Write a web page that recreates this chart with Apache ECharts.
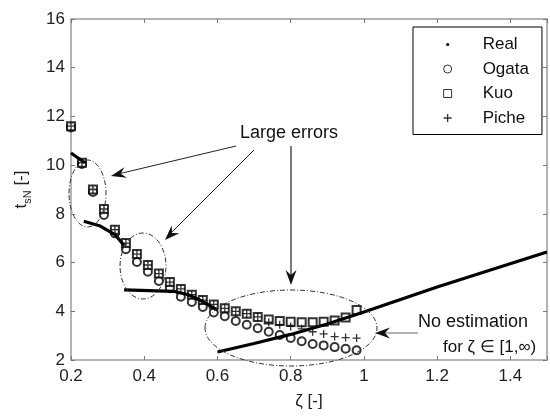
<!DOCTYPE html>
<html>
<head>
<meta charset="utf-8">
<script src="https://cdn.jsdelivr.net/npm/echarts@6/dist/echarts.min.js"></script>
<style>
html,body{margin:0;padding:0;background:#fff;}
#chart{width:550px;height:417px;}
</style>
</head>
<body>
<div id="chart"></div>
<script>
// ---- data ----
const zeta = [0.20,0.23,0.26,0.29,0.32,0.35,0.38,0.41,0.44,0.47,0.50,0.53,0.56,0.59,0.62,0.65,0.68,0.71,0.74,0.77,0.80,0.83,0.86,0.89,0.92,0.95,0.98];
const ogata = [11.55,10.05,8.9,7.95,7.2,6.55,6.02,5.62,5.24,4.95,4.6,4.38,4.18,3.95,3.8,3.6,3.45,3.3,3.16,3.03,2.9,2.77,2.66,2.6,2.53,2.46,2.4];
const kuo = [11.6,10.1,9.0,8.2,7.35,6.8,6.35,5.9,5.55,5.2,4.92,4.68,4.46,4.28,4.12,4.0,3.9,3.77,3.66,3.6,3.57,3.55,3.55,3.57,3.62,3.75,4.05];
const piche = [11.6,10.1,9.0,8.2,7.35,6.8,6.35,5.9,5.55,5.2,4.92,4.68,4.46,4.28,4.12,4.0,3.9,3.77,3.55,3.45,3.38,3.28,3.16,3.07,2.96,2.92,2.9];
// Real curve, segments separated by null
const realX = [0.20,0.238,null,0.235,0.28,0.32,0.345,null,0.345,0.48,0.52,0.56,0.60,null,0.60,0.70,0.80,0.90,1.00,1.20,1.50];
const realY = [10.5,10.1,null,7.7,7.5,7.15,6.7,null,4.88,4.82,4.68,4.4,4.05,null,2.33,2.68,3.05,3.48,3.97,5.0,6.43];
const seriesNames = ['Real','Ogata','Kuo','Piche'];
const xTickLabels = ['0.2','0.4','0.6','0.8','1','1.2','1.4'];
const yTickLabels = ['2','4','6','8','10','12','14','16'];

const FONT = "'Liberation Sans', Arial, Helvetica, sans-serif";
const chart = echarts.init(document.getElementById('chart'), null, {renderer:'canvas'});

function pair(xs, ys){ return xs.map((x,i)=> [x, ys[i]]); }
function realData(){ return realX.map((x,i)=> x===null ? '-' : [x, realY[i]]); }

const PLUS = 'path://M0,5L10,5M5,0L5,10';
const DOT = 'path://M0,0M10,10M5,3A2,2 0 1,1 5,7A2,2 0 1,1 5,3Z';
const SQUARE = 'path://M0,0L10,0L10,10L0,10Z';
const RING = 'path://M5,0A5,5 0 1,1 5,10A5,5 0 1,1 5,0Z';

function arrowHead(fx,fy,tx,ty,len,half,notch,color){
  const dx=tx-fx, dy=ty-fy, L=Math.hypot(dx,dy), ux=dx/L, uy=dy/L, px=-uy, py=ux;
  return {type:'polygon', silent:true, z:20,
    shape:{points:[[tx,ty],[tx-ux*len+px*half,ty-uy*len+py*half],[tx-ux*notch,ty-uy*notch],[tx-ux*len-px*half,ty-uy*len-py*half]]},
    style:{fill:color}};
}
function arrowLine(fx,fy,tx,ty,color,w){
  return {type:'line', silent:true, z:20, shape:{x1:fx,y1:fy,x2:tx,y2:ty}, style:{stroke:color,lineWidth:w}};
}
function ell(cx,cy,rx,ry){
  return {type:'ellipse', silent:true, z:15, shape:{cx:cx,cy:cy,rx:rx,ry:ry},
    style:{fill:'none',stroke:'#333',lineWidth:1,lineDash:[5,2,1,2]}};
}

const axisCommon = {
  axisLine:{show:true,onZero:false,lineStyle:{color:'#b4b4b4',width:2}},
  axisTick:{show:true,inside:true,length:4,lineStyle:{color:'#777',width:1}},
  splitLine:{show:false}
};
const openIcon = {color:'#fff',borderColor:'#000',borderWidth:1};

const option = {
  animation:false,
  backgroundColor:'#fff',
  grid:{left:71,right:0,top:19,bottom:57,containLabel:false},
  legend:{
    data:[
      {name:'Real',icon:DOT,itemStyle:{color:'#000',borderWidth:0}},
      {name:'Ogata',icon:RING,itemStyle:openIcon},
      {name:'Kuo',icon:SQUARE,itemStyle:openIcon},
      {name:'Piche',icon:PLUS,itemStyle:{color:'#000',borderColor:'#000',borderWidth:1.3}}
    ],
    orient:'vertical', left:413, top:27, symbolKeepAspect:true,
    backgroundColor:'#fff', borderColor:'#000', borderWidth:1,
    padding:[9,13,8,30], itemGap:7.5, itemWidth:60, itemHeight:8,
    textStyle:{fontFamily:FONT,fontSize:17,color:'#111'},
    selectedMode:false
  },
  xAxis:[
    Object.assign({type:'value',min:0.2,max:1.5,interval:0.2,position:'bottom',
      name:'ζ [-]', nameLocation:'middle', nameGap:33,
      nameTextStyle:{fontFamily:FONT,fontSize:17,color:'#222'},
      axisLabel:{margin:8,fontFamily:FONT,fontSize:17,color:'#222',
        formatter:function(v){ const i=Math.round((v-0.2)/0.2); return (Math.abs(v-(0.2+i*0.2))<1e-6 && i>=0 && i<xTickLabels.length) ? xTickLabels[i] : ''; }}
    }, axisCommon),
    Object.assign({type:'value',min:0.2,max:1.5,interval:0.2,position:'top',axisLabel:{show:false}}, axisCommon)
  ],
  yAxis:[
    Object.assign({type:'value',min:2,max:16,interval:2,position:'left',
      name:'{a|t}{b|sN}{a| [-]}', nameLocation:'middle', nameGap:38, nameRotate:90,
      nameTextStyle:{fontFamily:FONT,fontSize:17,color:'#222',
        rich:{a:{fontFamily:FONT,fontSize:17,color:'#222',lineHeight:24,verticalAlign:'middle'},
              b:{fontFamily:FONT,fontSize:11,color:'#222',verticalAlign:'bottom'}}},
      axisLabel:{margin:6,fontFamily:FONT,fontSize:17,color:'#222',
        formatter:function(v){ const i=Math.round((v-2)/2); return yTickLabels[i]||''; }}
    }, axisCommon),
    Object.assign({type:'value',min:2,max:16,interval:2,position:'right',axisLabel:{show:false}}, axisCommon)
  ],
  series:[
    {name:'Ogata',type:'scatter',data:pair(zeta,ogata),symbol:'emptyCircle',symbolSize:8,
      itemStyle:{color:'#000',borderColor:'#000',borderWidth:1},z:3},
    {name:'Kuo',type:'scatter',data:pair(zeta,kuo),symbol:'emptyRect',symbolSize:8,
      itemStyle:{color:'#000',borderColor:'#000',borderWidth:1},z:3},
    {name:'Piche',type:'scatter',data:pair(zeta,piche),symbol:PLUS,symbolSize:8,symbolKeepAspect:true,
      itemStyle:{color:'#000',borderColor:'#000',borderWidth:1.3},z:3},
    {name:'Real',type:'line',data:realData(),connectNulls:false,showSymbol:false,symbol:'circle',
      lineStyle:{color:'#000',width:3.2},itemStyle:{color:'#000'},z:4}
  ],
  graphic:[
    ell(87.5,193.5,18.5,33.5),
    ell(143,266,23,33),
    ell(291,328,86,38),
    {type:'text',silent:true,z:20,style:{x:240,y:133,text:'Large errors',fontFamily:FONT,fontSize:18,fill:'#111',verticalAlign:'middle'}},
    arrowLine(236,146,118,174,'#222',1), arrowHead(236,146,111,176,15,5.5,10,'#111'),
    arrowLine(254,150,170,234,'#222',1), arrowHead(254,150,165,240,15,5.5,10,'#111'),
    arrowLine(291,146,291,276,'#222',1.2), arrowHead(291,146,291,285,15,5.5,10,'#111'),
    arrowLine(418,333,382,333,'#999',1.5), arrowHead(418,333,375,333,15,5.5,10,'#111'),
    {type:'text',silent:true,z:20,style:{x:418,y:322,text:'No estimation',fontFamily:FONT,fontSize:18,fill:'#111',verticalAlign:'middle'}},
    {type:'text',silent:true,z:20,style:{x:443,y:347,text:'for ζ ∈ [1,∞)',fontFamily:FONT,fontSize:17,fill:'#111',verticalAlign:'middle'}}
  ]
};
chart.setOption(option);
</script>
</body>
</html>
